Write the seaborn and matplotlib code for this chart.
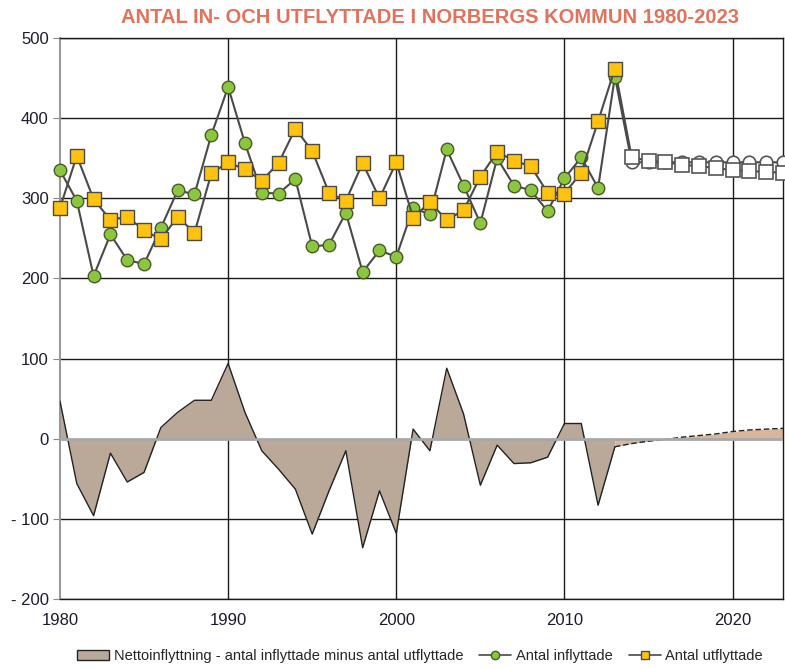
#Antal in- och utflyttade i Norbergs kommun 1980-2023
import matplotlib
matplotlib.use("Agg")
import matplotlib.pyplot as plt
from matplotlib.patches import Patch
from matplotlib.lines import Line2D
from matplotlib.ticker import FuncFormatter
import seaborn as sns

years = list(range(1980, 2014))
inflyttade = [335, 297, 203, 255, 223, 218, 263, 310, 305, 379,
              439, 369, 307, 306, 324, 240, 242, 282, 208, 235,
              227, 288, 280, 361, 316, 269, 350, 316, 310, 284,
              325, 351, 313, 452]
utflyttade = [288, 353, 299, 273, 277, 260, 249, 277, 257, 331,
              345, 336, 322, 344, 387, 359, 307, 297, 344, 300,
              345, 276, 295, 273, 285, 327, 358, 347, 340, 307,
              306, 332, 396, 462]
netto = [47, -56, -96, -18, -54, -42, 14, 33, 48, 48,
         94, 33, -15, -38, -63, -119, -65, -15, -136, -65,
         -118, 12, -15, 88, 31, -58, -8, -31, -30, -23,
         19, 19, -83, -10]

# prognos 2013-2023 (2013 = sista utfallet, binder ihop linjerna)
prog_years = list(range(2013, 2024))
prog_in = [452, 345, 345, 345, 345, 345, 345, 345, 345, 345, 345]
prog_ut = [462, 351, 347, 345, 342, 340, 338, 335, 334, 333, 332]
prog_netto = [-10, -6, -3, -1, 2, 4, 6, 9, 11, 12, 13]

sns.set_style("white")
plt.rcParams['font.family'] = ['Liberation Sans', 'DejaVu Sans']

fig = plt.figure(figsize=(7.85, 6.68), dpi=100)
ax = fig.add_axes([0.0764, 0.1033, 0.9211, 0.8397])

# gridlines
for y in [-200, -100, 100, 200, 300, 400, 500]:
    ax.axhline(y, color='#1a1a1a', lw=1.0, zorder=1)
for x in [1990, 2000, 2010, 2020]:
    ax.axvline(x, color='#1a1a1a', lw=1.0, zorder=1)

# nettoinflyttning
ax.fill_between(years, netto, 0, color='#baa999', zorder=2, lw=0)
sns.lineplot(x=years, y=netto, color='#222222', lw=1.0, ax=ax, zorder=3)
ax.fill_between(prog_years, prog_netto, 0, color='#d9b59c', zorder=2, lw=0)
sns.lineplot(x=prog_years, y=prog_netto, color='#222222', lw=1.0,
             linestyle=(0, (4, 2)), ax=ax, zorder=3)
ax.axhline(0, color='#a8a8a8', lw=2.0, zorder=4)

line_col = '#4a4a4a'
# prognoslinjer
sns.lineplot(x=prog_years, y=prog_in, color=line_col, lw=1.5, ax=ax, zorder=5)
sns.lineplot(x=prog_years, y=prog_ut, color=line_col, lw=1.5, ax=ax, zorder=5)
ax.plot(prog_years[1:], prog_in[1:], 'o', ms=9, mfc='white', mec='#555555',
        mew=1.2, zorder=6, clip_on=False)
ax.plot(prog_years[1:], prog_ut[1:], 's', ms=9.5, mfc='white', mec='#555555',
        mew=1.2, zorder=7, clip_on=False)

# utfall
sns.lineplot(x=years, y=inflyttade, color=line_col, lw=1.5, marker='o',
             markersize=9, markerfacecolor='#8cc63f', markeredgecolor='#4a5a2a',
             markeredgewidth=1.0, ax=ax, zorder=8, clip_on=False)
sns.lineplot(x=years, y=utflyttade, color=line_col, lw=1.5, marker='s',
             markersize=9.5, markerfacecolor='#ffc20e', markeredgecolor='#4a4a4a',
             markeredgewidth=1.0, ax=ax, zorder=9, clip_on=False)

ax.set_xlim(1980, 2023)
ax.set_ylim(-200, 500)
ax.set_xticks([1980, 1990, 2000, 2010, 2020])
ax.set_yticks(range(-200, 501, 100))
ax.yaxis.set_major_formatter(FuncFormatter(
    lambda v, p: '- %d' % abs(v) if v < 0 else '%d' % v))
ax.tick_params(axis='y', length=5, color='#888888', labelsize=12,
               labelcolor='#1c1c2c', left=True, pad=3)
ax.tick_params(axis='x', length=0, labelsize=12, labelcolor='#1c1c2c', pad=10)
ax.set_xlabel('')
ax.set_ylabel('')
for s in ['top', 'right', 'bottom']:
    ax.spines[s].set_color('#1a1a1a')
    ax.spines[s].set_linewidth(1.0)
ax.spines['left'].set_color('#999999')
ax.spines['left'].set_linewidth(1.5)

fig.text(0.548, 0.974, 'ANTAL IN- OCH UTFLYTTADE I NORBERGS KOMMUN 1980-2023',
         ha='center', va='center', fontsize=14.5, fontweight='bold', color='#e2725b')

handles = [
    Patch(facecolor='#baa999', edgecolor='#222222', lw=1.0),
    Line2D([], [], color=line_col, lw=1.2, marker='o', ms=6,
           mfc='#8cc63f', mec='#4a5a2a'),
    Line2D([], [], color=line_col, lw=1.2, marker='s', ms=6,
           mfc='#ffc20e', mec='#4a4a4a'),
]
labels = ['Nettoinflyttning - antal inflyttade minus antal utflyttade',
          'Antal inflyttade', 'Antal utflyttade']
fig.legend(handles, labels, loc='center', bbox_to_anchor=(0.535, 0.018),
           ncol=3, frameon=False, handlelength=2.2, handletextpad=0.3,
           columnspacing=1.1, prop={'size': 10.5})

plt.savefig('out.png', dpi=100)
